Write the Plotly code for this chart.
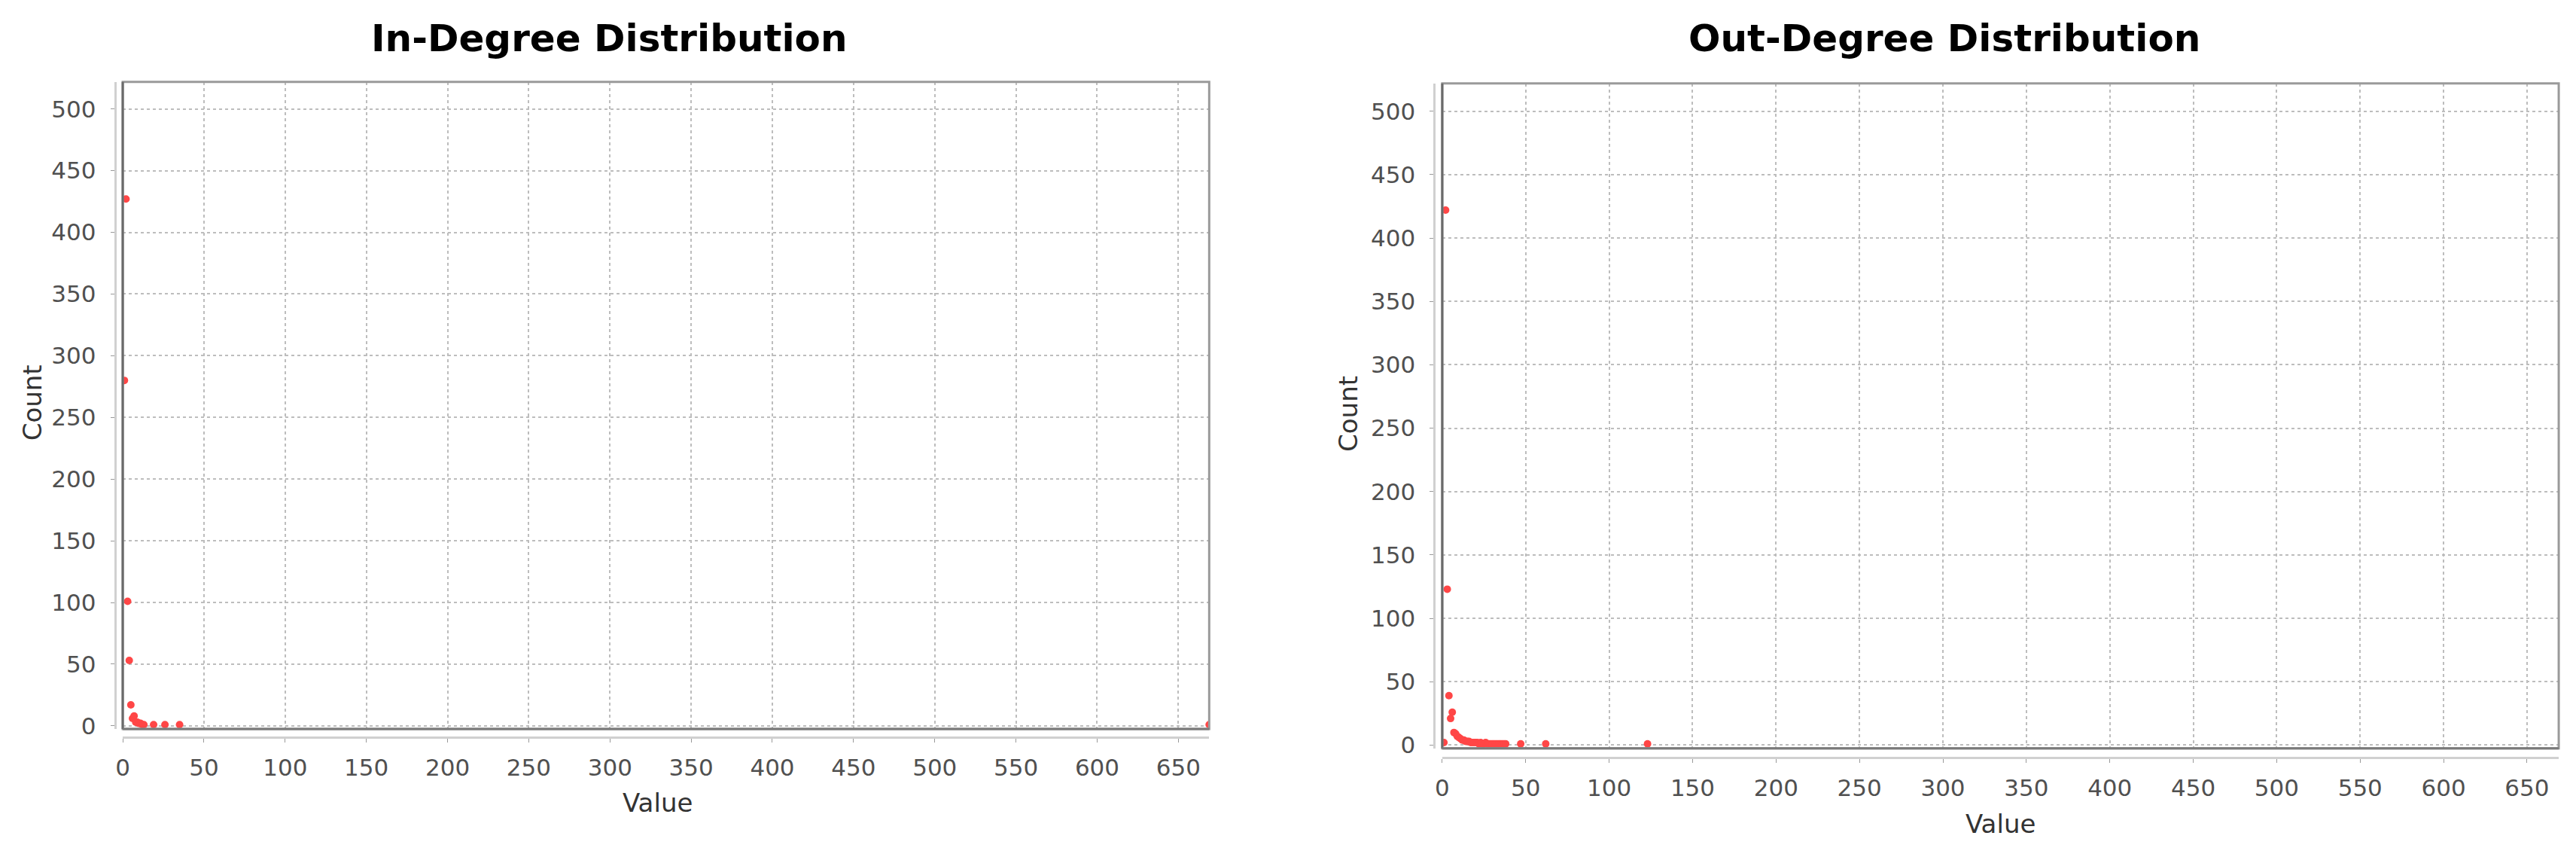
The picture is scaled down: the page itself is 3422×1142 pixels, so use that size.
import plotly.graph_objects as go

# ---- data ----
in_degree_values = [1, 2, 3, 4, 5, 6, 7, 8, 9, 10, 11, 12, 13, 19, 26, 35, 669]
in_degree_counts = [280, 427, 101, 53, 17, 6, 8, 3, 3, 2, 2, 1, 1, 1, 1, 1, 1]

out_degree_values = [1, 2, 3, 4, 5, 6, 7, 8, 9, 10, 11, 12, 13, 14, 15, 16, 17, 18, 19, 20,
                     21, 22, 23, 24, 25, 26, 27, 28, 29, 30, 31, 32, 33, 34, 35, 36, 37, 38,
                     47, 62, 123]
out_degree_counts = [2, 422, 123, 39, 21, 26, 10, 9, 7, 6, 5, 4, 4, 3, 3, 3, 2, 2, 2, 2,
                     2, 1, 2, 1, 1, 2, 1, 1, 1, 1, 1, 1, 1, 1, 1, 1, 1, 1,
                     1, 1, 1]

titles = ["In-Degree Distribution", "Out-Degree Distribution"]
x_title = "Value"
y_title = "Count"
x_ticks = list(range(0, 651, 50))
y_ticks = list(range(0, 501, 50))

W, H = 3422, 1142
def px(x):
    return x / W
def py(y):
    return 1 - y / H

fig = go.Figure()
fig.add_trace(go.Scatter(x=in_degree_values, y=in_degree_counts, mode="markers",
                         marker=dict(color="#ff4646", size=10, line=dict(width=0)),
                         xaxis="x", yaxis="y", showlegend=False))
fig.add_trace(go.Scatter(x=out_degree_values, y=out_degree_counts, mode="markers",
                         marker=dict(color="#ff4646", size=10, line=dict(width=0)),
                         xaxis="x2", yaxis="y2", showlegend=False))

tickfont = dict(family="DejaVu Sans", size=31, color="#505050")
grid = dict(showgrid=True, gridcolor="#bdbdbd", gridwidth=1.5, griddash="4px,4px",
            zeroline=False, showline=True, linecolor="#d0d0d0", linewidth=3,
            ticks="outside", ticklen=5, tickcolor="#9a9a9a", tickwidth=1,
            tickfont=tickfont)

# panel geometry (pixels)
panels = [
    dict(l=153.5, r=1601, t=110, b=980, yline=143, xline=991),
    dict(l=1911.5, r=3399, t=112, b=1006, yline=1901, xline=1018),
]

xr = [0, 669]
yr = [-2.5, 522]

for i, p in enumerate(panels):
    sx = "" if i == 0 else "2"
    xa = dict(domain=[px(p["l"]), px(p["r"])], range=xr, tickvals=x_ticks,
              anchor="free", position=py(p["xline"]), ticklabelstandoff=7, **grid)
    ya = dict(domain=[py(p["b"]), py(p["t"])], range=yr, tickvals=y_ticks,
              anchor="free", position=px(p["yline"]), ticklabelstandoff=13, **grid)
    fig.layout["xaxis" + sx] = xa
    fig.layout["yaxis" + sx] = ya

shapes = []
for i, p in enumerate(panels):
    sx = "" if i == 0 else "2"
    shapes.append(dict(type="rect", xref="x%s domain" % sx, yref="y%s domain" % sx,
                       x0=0, x1=1, y0=0, y1=1, line=dict(color="#9a9a9a", width=3),
                       layer="above"))
    shapes.append(dict(type="line", xref="x%s domain" % sx, yref="y%s domain" % sx,
                       x0=0, x1=0, y0=0, y1=1, line=dict(color="#6a6a6a", width=3),
                       layer="above"))
    shapes.append(dict(type="line", xref="x%s domain" % sx, yref="y%s domain" % sx,
                       x0=0, x1=1, y0=0, y1=0, line=dict(color="#7a7a7a", width=3),
                       layer="above"))

annotations = []
title_centers = [802, 2581]
xt_pos = [(866, 1079), (2655, 1108)]
yt_pos = [(33, 541), (1786, 556)]
for i in range(2):
    annotations.append(dict(text="<b>%s</b>" % titles[i], x=px(title_centers[i]), y=py(52),
                            xref="paper", yref="paper", showarrow=False,
                            xanchor="center", yanchor="middle",
                            font=dict(family="DejaVu Sans", size=50, color="#000000")))
    annotations.append(dict(text=x_title, x=px(xt_pos[i][0]), y=py(xt_pos[i][1]),
                            xref="paper", yref="paper", showarrow=False,
                            xanchor="center", yanchor="middle",
                            font=dict(family="DejaVu Sans", size=34, color="#333333")))
    annotations.append(dict(text=y_title, x=px(yt_pos[i][0]), y=py(yt_pos[i][1]),
                            xref="paper", yref="paper", showarrow=False, textangle=-90,
                            xanchor="center", yanchor="middle",
                            font=dict(family="DejaVu Sans", size=34, color="#333333")))

fig.update_layout(width=W, height=H, margin=dict(l=0, r=0, t=0, b=0),
                  paper_bgcolor="white", plot_bgcolor="white",
                  shapes=shapes, annotations=annotations)

fig.write_html("out.html", config={"displayModeBar": False},
               post_script="document.body.style.margin='0px';document.body.style.overflow='hidden';")
